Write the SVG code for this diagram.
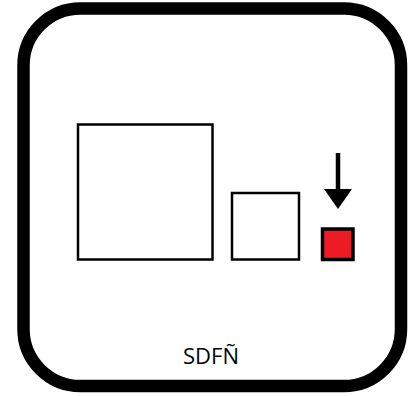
<svg xmlns="http://www.w3.org/2000/svg" width="409" height="396" viewBox="0 0 409 396">
<style>
.sq{fill:#fff;stroke:#000;stroke-width:2.5}
.lbl{font-family:"Open Sans","Liberation Sans",sans-serif;font-size:22px;fill:#000}
</style>
<rect x="0" y="0" width="409" height="396" fill="#fff"/>
<g id="frame"><rect x="23.5" y="8.5" width="377.5" height="377.5" rx="57" ry="57" fill="#fff" stroke="#000" stroke-width="12.5"/></g>
<g id="big"><rect class="sq" x="78" y="124.5" width="134.5" height="135"/></g>
<g id="medium"><rect class="sq" x="232" y="193" width="67" height="66.5"/></g>
<g id="small"><rect x="322.5" y="229" width="30.5" height="30.5" fill="#ED1C24" stroke="#000" stroke-width="3.5"/></g>
<g id="connectors">
<line x1="338" y1="153" x2="338" y2="190" stroke="#000" stroke-width="4.5"/>
<polygon points="324,189 352,189 338,209" fill="#000"/>
</g>
<g id="label"><text class="lbl" x="211" y="364" text-anchor="middle">SDFÑ</text></g>
</svg>
